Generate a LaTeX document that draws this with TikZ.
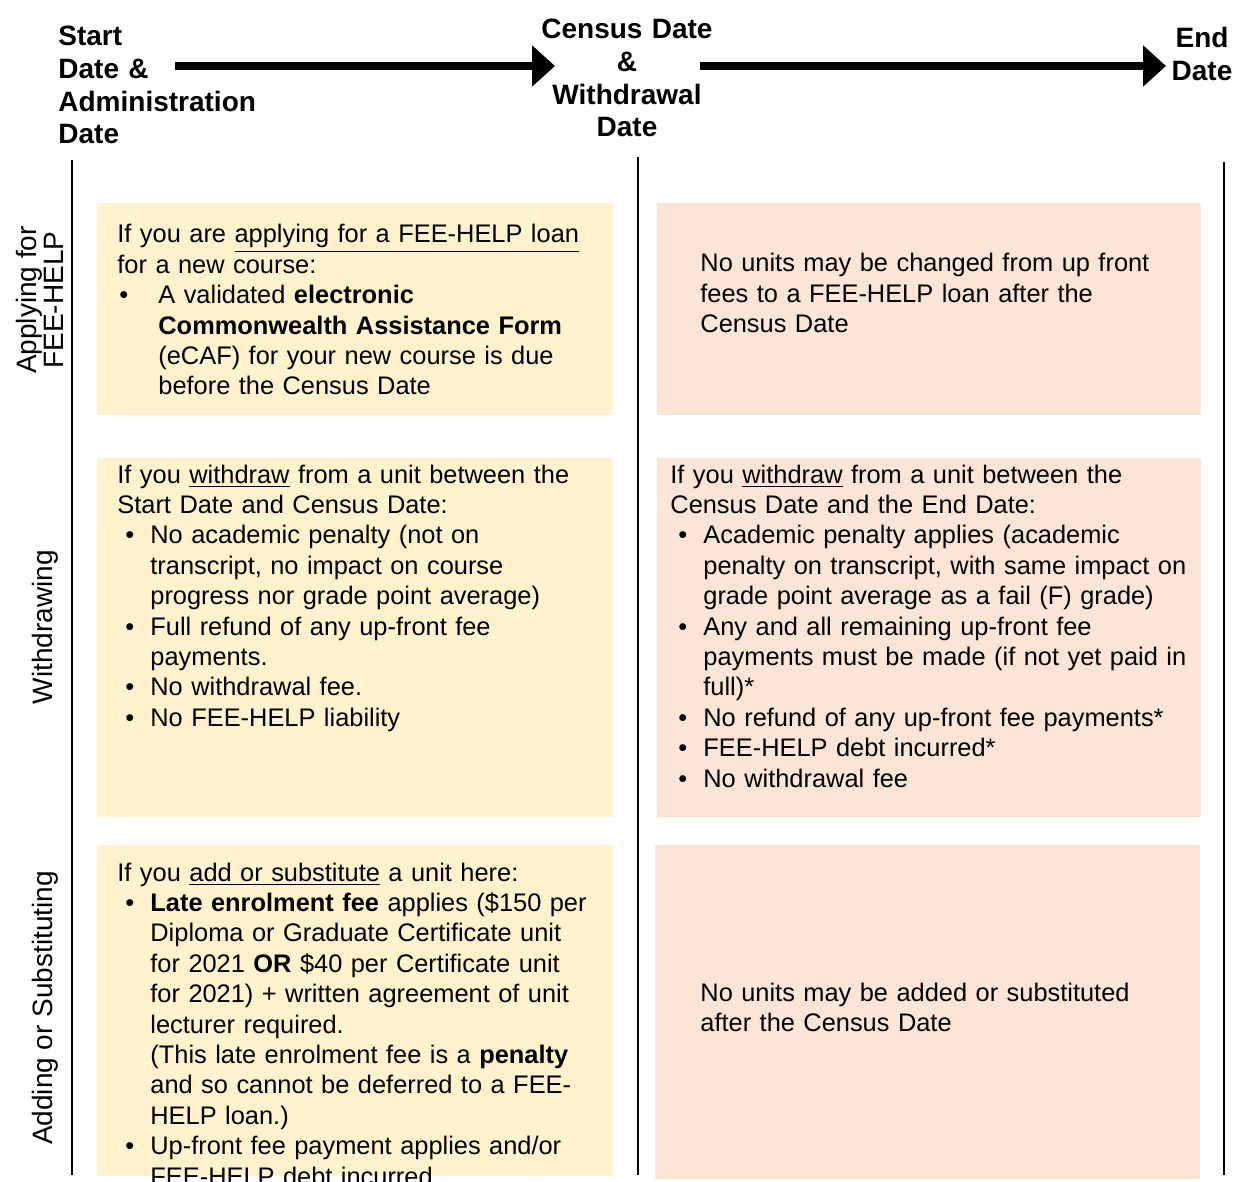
\documentclass[tikz,border=0pt]{standalone}
\usepackage{fontspec}
\setmainfont{Liberation Sans}
\usepackage{xcolor}
\definecolor{lightyellow}{HTML}{FFF2CC}
\definecolor{lightpeach}{HTML}{FBE5D6}
\usetikzlibrary{arrows.meta}
\newcommand{\bodysize}{\fontsize{12.7}{15.2}\selectfont}
\newcommand{\headsize}{\fontsize{14}{16.3}\selectfont\bfseries}
\newcommand{\rowsize}{\fontsize{14}{12.5}\selectfont}
\newcommand{\bulA}{\makebox[20.5pt][l]{\hspace{1pt}\textbullet}}
\newcommand{\indA}{\hspace*{20.5pt}}
\newcommand{\bulB}{\makebox[16.5pt][l]{\hspace{4pt}\textbullet}}
\newcommand{\indB}{\hspace*{16.5pt}}
\tikzset{
    heading/.style={font=\headsize, inner sep=0pt},
    rowlabel/.style={font=\rowsize, rotate=90, align=center, inner sep=0pt},
    celltext/.style={font=\bodysize, align=left, inner sep=0pt, anchor=base west, text width=310pt},
    before/.style={fill=lightyellow},
    after/.style={fill=lightpeach},
    timeline/.style={line width=4pt, -{Triangle[length=11.5pt,width=20pt]}},
    divider/.style={line width=1pt}
}

\begin{document}
\begin{tikzpicture}[x=0.5pt, y=-0.5pt]
    \useasboundingbox (0,0) rectangle (1234,1181);

    % dates along the top
    \node[heading, anchor=base west, text width=110pt, align=left] (start) at (58,46)
        {Start\\Date \&\\Administration\\Date};
    \node[heading, anchor=base, text width=90pt, align=center] (census) at (627,39)
        {Census Date\\\&\\Withdrawal\\Date};
    \node[heading, anchor=base, text width=40pt, align=center] (end) at (1202,48)
        {End\\Date};

    \coordinate (startout) at (175,66);
    \coordinate (censusin) at (555,66);
    \coordinate (censusout) at (700,66);
    \coordinate (endin) at (1166,66);
    \draw[timeline] (startout) -- (censusin);
    \draw[timeline] (censusout) -- (endin);

    % column dividers
    \foreach \x/\top in {72/160, 638/157, 1224/162}
        \draw[divider] (\x,\top) -- (\x,1175);

    % cells
    \fill[before] (97,203) rectangle (613,415);
    \fill[after] (657,203) rectangle (1201,415);
    \fill[before] (97,458) rectangle (613,817);
    \fill[after] (657,458) rectangle (1201,817);
    \fill[before] (97,845) rectangle (613,1176);
    \fill[after] (655,845) rectangle (1200,1179);

    % row labels
    \node[rowlabel] (applying) at (40,300) {Applying for\\FEE-HELP};
    \node[rowlabel] (withdrawing) at (45,627) {Withdrawing};
    \node[rowlabel] (adding) at (45,1008) {Adding or Substituting};

    % applying
    \node[celltext] (applyBefore) at (117,243)
        {If you are \underline{applying for a FEE-HELP loan}\\
         for a new course:\\
         \bulA A validated \textbf{electronic}\\
         \indA\textbf{Commonwealth Assistance Form}\\
         \indA(eCAF) for your new course is due\\
         \indA before the Census Date};
    \node[celltext] (applyAfter) at (700,272)
        {No units may be changed from up front\\
         fees to a FEE-HELP loan after the\\
         Census Date};

    % withdrawing
    \node[celltext] (withdrawBefore) at (117,483)
        {If you \underline{withdraw} from a unit between the\\
         Start Date and Census Date:\\
         \bulB No academic penalty (not on\\
         \indB transcript, no impact on course\\
         \indB progress nor grade point average)\\
         \bulB Full refund of any up-front fee\\
         \indB payments.\\
         \bulB No withdrawal fee.\\
         \bulB No FEE-HELP liability};
    \node[celltext] (withdrawAfter) at (670,483)
        {If you \underline{withdraw} from a unit between the\\
         Census Date and the End Date:\\
         \bulB Academic penalty applies (academic\\
         \indB penalty on transcript, with same impact on\\
         \indB grade point average as a fail (F) grade)\\
         \bulB Any and all remaining up-front fee\\
         \indB payments must be made (if not yet paid in\\
         \indB full)*\\
         \bulB No refund of any up-front fee payments*\\
         \bulB FEE-HELP debt incurred*\\
         \bulB No withdrawal fee};

    % adding or substituting
    \node[celltext] (addBefore) at (117,881)
        {If you \underline{add or substitute} a unit here:\\
         \bulB\textbf{Late enrolment fee} applies (\$150 per\\
         \indB Diploma or Graduate Certificate unit\\
         \indB for 2021 \textbf{OR} \$40 per Certificate unit\\
         \indB for 2021) + written agreement of unit\\
         \indB lecturer required.\\
         \indB (This late enrolment fee is a \textbf{penalty}\\
         \indB and so cannot be deferred to a FEE-\\
         \indB HELP loan.)\\
         \bulB Up-front fee payment applies and/or\\
         \indB FEE-HELP debt incurred};
    \node[celltext] (addAfter) at (700,1001)
        {No units may be added or substituted\\
         after the Census Date};
\end{tikzpicture}
\end{document}
